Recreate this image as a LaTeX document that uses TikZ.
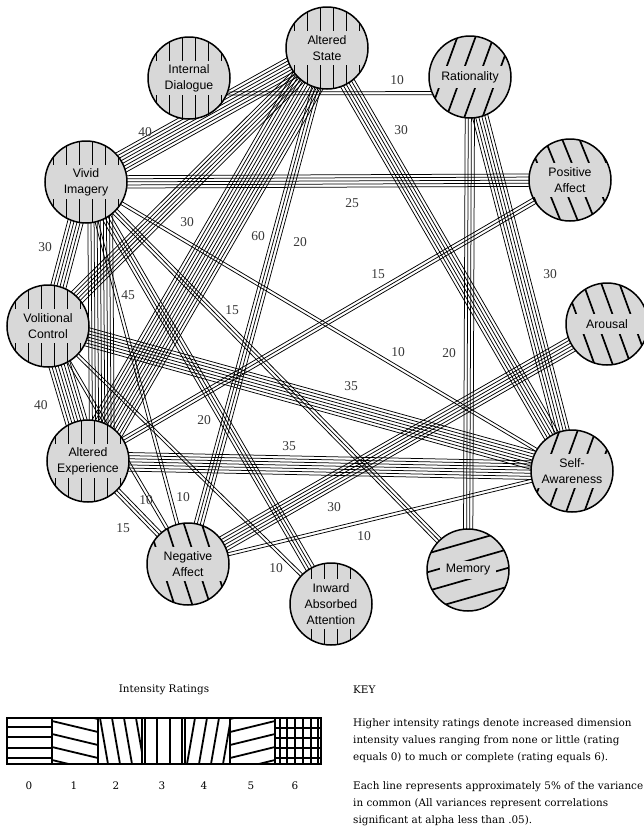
\documentclass[tikz,border=0pt]{standalone}
\usepackage{fontspec}
\setmainfont{Liberation Serif}
\newfontfamily\arialf{Liberation Sans}
\newfontfamily\keyf{DejaVu Serif}
\usetikzlibrary{calc,backgrounds}
\definecolor{nodegray}{HTML}{D8D8D8}
\definecolor{numgray}{HTML}{383838}
\tikzset{
  bl/.style={line width=0.75pt, black},
  circ/.style={circle, minimum size=82pt, inner sep=0pt, fill=nodegray},
  hatchln/.style={line width=1.7pt, black},
  outline/.style={line width=1.5pt, black},
  lbl/.style={font=\arialf\fontsize{12.3}{16}\selectfont, align=center, inner sep=0pt},
  num/.style={font=\fontsize{13.5}{15}\selectfont, text=numgray, inner sep=0pt},
  keytxt/.style={font=\keyf\fontsize{10.4}{17}\selectfont, align=left, anchor=base west, inner sep=0pt},
  keyhd/.style={font=\keyf\fontsize{10.4}{17}\selectfont, inner sep=0pt},
  lgh/.style={line width=1.8pt, black},
  lgbox/.style={line width=2.4pt, black},
}
% #1 name, #2 x, #3 y, #4 hatch angle, #5 spacing, #6 band half-height, #7 band half-width, #8 text
\newcommand{\hatchnode}[8]{%
  \node[circ] (#1) at (#2,#3) {};
  \begin{scope}
    \clip (#2,#3) circle (41);
    \foreach \k in {-3.5,-2.5,-1.5,-0.5,0.5,1.5,2.5,3.5} {
      \draw[hatchln] ($(#2,#3)+(#4:60)+(#4+90:\k*#5)$) -- ($(#2,#3)+(#4+180:60)+(#4+90:\k*#5)$);
    }
    \fill[nodegray] (#2-#7,#3-#6) rectangle (#2+#7,#3+#6);
  \end{scope}
  \draw[outline] (#2,#3) circle (41);
  \node[lbl] at (#1) {#8};
}
% bundle of parallel lines: [shift]{a}{b}{count}
\newcommand{\bund}[4][0]{%
  \foreach \i in {1,...,#4} {
    \pgfmathsetmacro{\dd}{(\i-(#4+1)/2)*3.1+#1}
    \draw[bl] ($(#2)!\dd pt!90:(#3)$) -- ($(#3)!\dd pt!-90:(#2)$);
  }
}
\begin{document}
\begin{tikzpicture}[x=1pt,y=-1pt]
\useasboundingbox (0,0) rectangle (644,830);

% ---------- nodes ----------
\hatchnode{as}{327}{48}{90}{13}{17}{41}{Altered\\State}
\hatchnode{id}{189}{78}{90}{13}{17}{41}{Internal\\Dialogue}
\hatchnode{ra}{470}{77}{110}{17}{11}{41}{Rationality}
\hatchnode{pa}{570}{180}{68}{16}{17}{41}{Positive\\Affect}
\hatchnode{vi}{86}{182}{90}{13}{17}{41}{Vivid\\Imagery}
\hatchnode{vc}{48}{326}{90}{13}{17}{41}{Volitional\\Control}
\hatchnode{ar}{607}{324}{70}{17}{10}{41}{Arousal}
\hatchnode{ae}{88}{461}{90}{13}{17}{41}{Altered\\Experience}
\hatchnode{sa}{572}{471}{110}{17}{17}{41}{Self-\\Awareness}
\hatchnode{na}{188}{564}{72}{17}{17}{41}{Negative\\Affect}
\hatchnode{iaa}{331}{604}{90}{13}{25}{41}{Inward\\Absorbed\\Attention}
\hatchnode{me}{468}{570}{-16}{18}{9}{28}{Memory}

% ---------- connector bundles ----------
\begin{pgfonlayer}{background}
  \fill[white] (0,0) rectangle (644,830);
  \bund{id.-22}{ra.-157}{2}
  \bund{as}{vi}{8}
  \bund{as}{vc}{6}
  \bund{as}{ae}{12}
  \bund{as}{na}{4}
  \bund{as}{sa}{6}
  \bund{vi}{pa}{5}
  \bund{ra}{me}{4}
  \bund{ra}{sa}{6}
  \bund{pa}{ae}{3}
  \bund{ar}{na}{6}
  \bund{sa}{na}{2}
  \bund{ae}{sa}{7}
  \bund{vc}{sa}{7}
  \bund{vi}{sa}{2}
  \bund{vi}{vc}{6}
  \bund{vc}{ae}{8}
  \bund[14]{vi}{ae}{9}
  \bund{ae}{na}{3}
  \bund{vc}{na}{2}
  \bund{vi}{na}{2}
  \bund{vi}{me}{3}
  \bund{vi}{iaa}{4}
  \bund{vc}{iaa}{2}
\end{pgfonlayer}

% ---------- numbers ----------
\node[num] (n1) at (145,132) {40};
\node[num] (n2) at (397,80) {10};
\node[num] (n3) at (401,130) {30};
\node[num] (n4) at (352,203) {25};
\node[num] (n5) at (187,222) {30};
\node[num] (n6) at (258,236) {60};
\node[num] (n7) at (300,242) {20};
\node[num] (n8) at (45,247) {30};
\node[num] (n9) at (128,295) {45};
\node[num] (n10) at (232,310) {15};
\node[num] (n11) at (378,274) {15};
\node[num] (n12) at (550,274) {30};
\node[num] (n13) at (398,352) {10};
\node[num] (n14) at (449,353) {20};
\node[num] (n15) at (351,386) {35};
\node[num] (n16) at (41,405) {40};
\node[num] (n17) at (204,420) {20};
\node[num] (n18) at (289,446) {35};
\node[num] (n19) at (334,507) {30};
\node[num] (n20) at (146,500) {10};
\node[num] (n21) at (183,497) {10};
\node[num] (n22) at (123,528) {15};
\node[num] (n23) at (364,536) {10};
\node[num] (n24) at (276,568) {10};

% ---------- legend ----------
\node[keyhd] (ir) at (164,690) {Intensity Ratings};
\begin{scope}
  \clip (7,718) rectangle (321,764);
  % 0 horizontal
  \foreach \yy in {727,737,748,758} \draw[lgh] (7,\yy) -- (52,\yy);
  % 1 shallow descending
  \begin{scope}\clip (52,718) rectangle (98,764);
    \foreach \yy in {708,721,734,747,760} \draw[lgh] (52,\yy) -- (98,\yy+11);
  \end{scope}
  % 2 steep descending
  \begin{scope}\clip (98,718) rectangle (142,764);
    \foreach \xx in {88,100,112,124,136} \draw[lgh] (\xx,718) -- (\xx+8,764);
  \end{scope}
  % 3 vertical
  \foreach \xx in {145,157,170,182} \draw[lgh] (\xx,718) -- (\xx,764);
  % 4 steep ascending
  \begin{scope}\clip (185,718) rectangle (230,764);
    \foreach \xx in {195,207,219,231,243} \draw[lgh] (\xx,718) -- (\xx-8,764);
  \end{scope}
  % 5 shallow ascending
  \begin{scope}\clip (230,718) rectangle (275,764);
    \foreach \yy in {719,732,745,758,771} \draw[lgh] (230,\yy) -- (275,\yy-11);
  \end{scope}
  % 6 grid
  \foreach \xx in {280,287,295,303,311,318} \draw[lgh] (\xx,718) -- (\xx,764);
  \foreach \yy in {728,738,748,758} \draw[lgh] (275,\yy) -- (321,\yy);
\end{scope}
\draw[lgbox] (7,718) rectangle (321,764);
\foreach \xx in {52,98,142,185,230,275} \draw[lgbox] (\xx,718) -- (\xx,764);
\foreach \v/\xx in {0/29,1/74,2/116,3/162,4/204,5/251,6/295}
  \node[keyhd] (k\v) at (\xx,786) {\v};

\begin{scope}
  \clip (0,0) rectangle (644,830);
  \node[keyhd, anchor=west] (key) at (353,690) {KEY};
  \node[keytxt] (kt1) at (353,760) {Higher intensity ratings denote increased dimension\\intensity values ranging from none or little (rating\\equals 0) to much or complete (rating equals 6).};
  \node[keytxt] (kt2) at (353,823) {Each line represents approximately 5\% of the variance\\in common (All variances represent correlations\\significant at alpha less than .05).};
\end{scope}
\end{tikzpicture}
\end{document}
